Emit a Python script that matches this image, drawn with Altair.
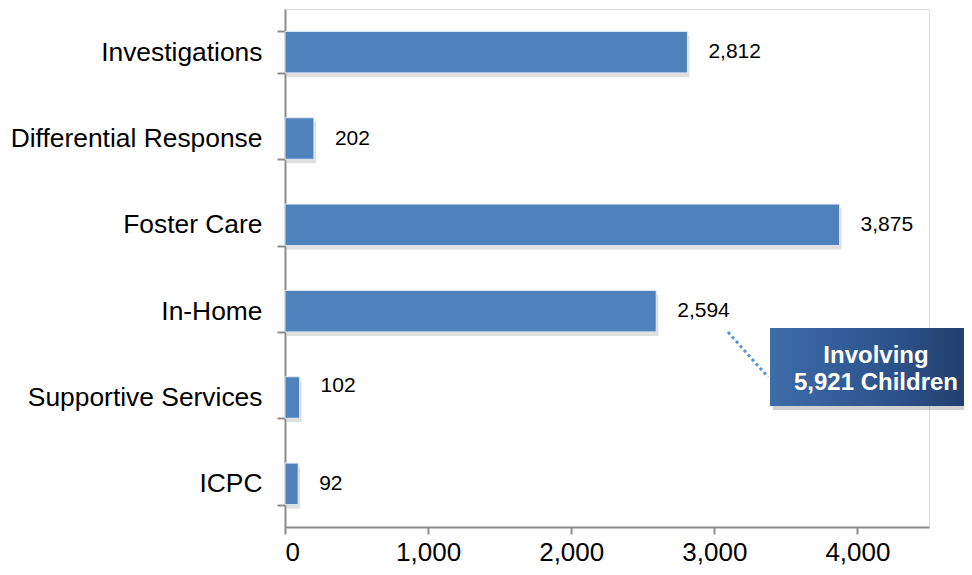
import altair as alt
import pandas as pd

categories = ["Investigations", "Differential Response", "Foster Care", "In-Home",
              "Supportive Services", "ICPC"]
values = [2812, 202, 3875, 2594, 102, 92]
x_ticks = [0, 1000, 2000, 3000, 4000]
callout_lines = ["Involving", "5,921 Children"]

df = pd.DataFrame({"category": categories, "value": values})
df["label"] = [f"{v:,}" for v in values]

FONT = "Liberation Sans"
W, H = 644, 518

xscale = alt.Scale(domain=[0, 4500], nice=False)
yscale = alt.Scale(domain=categories, paddingInner=0.52, paddingOuter=0.26)

xenc = alt.X("value:Q", scale=xscale,
             axis=alt.Axis(values=x_ticks, format=",.0f", title=None, grid=False,
                           domainColor="#8c8c8c", domainWidth=2, tickColor="#8c8c8c",
                           tickWidth=2, tickSize=7, labelFont=FONT, labelFontSize=26,
                           labelColor="#000000", labelPadding=5))
yenc = alt.Y("category:N", scale=yscale, sort=categories,
             axis=alt.Axis(title=None, domainColor="#8c8c8c", domainWidth=2,
                           tickColor="#8c8c8c", tickWidth=2, tickSize=8, tickBand="extent",
                           labelFont=FONT, labelFontSize=26.4, labelColor="#000000",
                           labelPadding=15, labelLimit=0))

base = alt.Chart(df)

shadow = base.mark_bar(color="#000000", opacity=0.12, xOffset=2, yOffset=4).encode(
    x=xenc, y=yenc)
bars = base.mark_bar(color="#4f81bd", stroke="#dfe8f3", strokeWidth=1).encode(
    x=xenc, y=yenc)

label_props = dict(align="left", baseline="middle", dx=21, font=FONT,
                   fontSize=21, color="#000000")
labels = base.mark_text(**label_props).encode(
    x="value:Q", y=alt.Y("category:N", sort=categories), text="label:N"
).transform_filter(alt.datum.category != "Supportive Services")
labels_ss = base.mark_text(dy=-12, **label_props).encode(
    x="value:Q", y=alt.Y("category:N", sort=categories), text="label:N"
).transform_filter(alt.datum.category == "Supportive Services")

one = pd.DataFrame({"a": [0]})

pointer = alt.Chart(one).mark_rule(
    color="#5b93d8", strokeWidth=3, strokeDash=[3, 3]).encode(
    x=alt.value(443), x2=alt.value(483), y=alt.value(323), y2=alt.value(368))

box_shadow = alt.Chart(one).mark_rect(color="#000000", opacity=0.18).encode(
    x=alt.value(488), x2=alt.value(700), y=alt.value(322), y2=alt.value(401))

grad = alt.LinearGradient(
    gradient="linear",
    stops=[alt.GradientStop(color="#3c6ca9", offset=0),
           alt.GradientStop(color="#2c5189", offset=0.6),
           alt.GradientStop(color="#1f3a63", offset=1)],
    x1=0, x2=1, y1=0, y2=0)

box = alt.Chart(one).mark_rect(color=grad).encode(
    x=alt.value(485), x2=alt.value(700), y=alt.value(319), y2=alt.value(397))

box_text = alt.Chart(one).mark_text(
    font=FONT, fontSize=24, fontWeight="bold", color="#ffffff",
    align="center", baseline="middle", lineHeight=27,
    text=callout_lines).encode(x=alt.value(591), y=alt.value(347))

chart = alt.layer(shadow, bars, labels, labels_ss, pointer, box_shadow, box, box_text).properties(
    width=W, height=H,
    autosize=alt.AutoSizeParams(type="none"),
    padding={"left": 277, "top": 1, "right": 35, "bottom": 38},
).configure_view(stroke=None).configure(background="#ffffff")

chart.save("out.html", embed_options={"renderer": "svg", "actions": False})
